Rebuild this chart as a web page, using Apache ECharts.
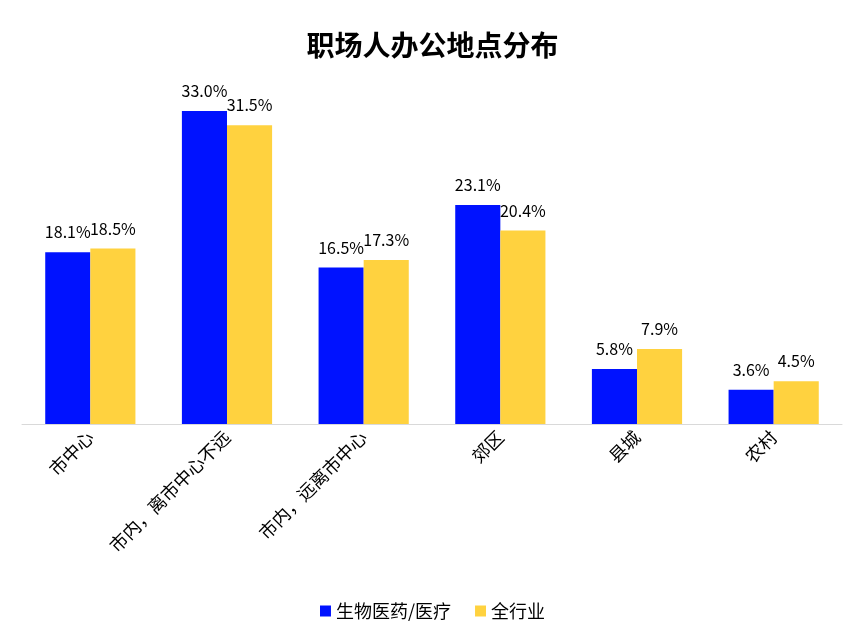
<!DOCTYPE html>
<html>
<head>
<meta charset="utf-8">
<script src="https://cdn.jsdelivr.net/npm/echarts@6/dist/echarts.min.js"></script>
<style>
html,body{margin:0;padding:0;background:#fff;}
#chart{width:865px;height:644px;}
</style>
</head>
<body>
<div id="chart"></div>
<script>
var categories = ['市中心', '市内，离市中心不远', '市内，远离市中心', '郊区', '县城', '农村'];
var bioValues = [18.1, 33.0, 16.5, 23.1, 5.8, 3.6];
var allValues = [18.5, 31.5, 17.3, 20.4, 7.9, 4.5];
var seriesNames = ['生物医药/医疗', '全行业'];

var font = '"Noto Sans CJK SC","Microsoft YaHei",sans-serif';
var labelOpt = {
    show: true,
    position: 'top',
    distance: 12,
    color: '#000',
    fontSize: 16,
    fontFamily: font,
    formatter: function (p) { return p.value.toFixed(1) + '%'; }
};

var chart = echarts.init(document.getElementById('chart'));
chart.setOption({
    backgroundColor: '#fff',
    title: {
        text: '职场人办公地点分布',
        left: 'center',
        top: 26,
        textStyle: { fontSize: 28, fontWeight: 'bold', color: '#000', fontFamily: font }
    },
    legend: {
        bottom: 19,
        left: 'center',
        itemWidth: 11,
        itemHeight: 11,
        itemGap: 24,
        icon: 'rect',
        textStyle: { fontSize: 18, color: '#000', fontFamily: font },
        data: seriesNames
    },
    grid: { left: 22, right: 23, top: 92, bottom: 220, containLabel: false },
    xAxis: {
        type: 'category',
        data: categories,
        axisLine: { lineStyle: { color: '#d9d9d9' } },
        axisTick: { show: false },
        axisLabel: { rotate: 45, color: '#000', fontSize: 18, fontFamily: font, interval: 0, margin: 10 }
    },
    yAxis: {
        type: 'value',
        min: 0,
        max: 35,
        show: false,
        splitLine: { show: false }
    },
    series: [
        {
            name: seriesNames[0],
            type: 'bar',
            data: bioValues,
            barGap: '0%',
            barCategoryGap: '34%',
            itemStyle: { color: '#0012FF' },
            label: labelOpt
        },
        {
            name: seriesNames[1],
            type: 'bar',
            data: allValues,
            itemStyle: { color: '#FFD23F' },
            label: labelOpt
        }
    ]
});
</script>
</body>
</html>
